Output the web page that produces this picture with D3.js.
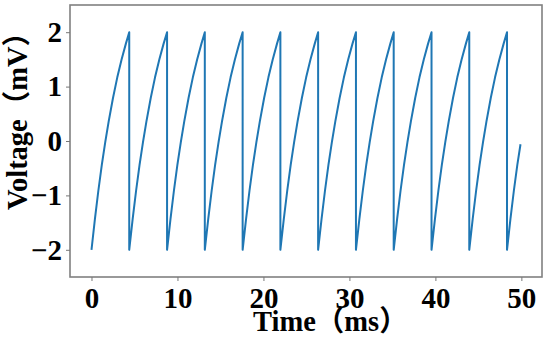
<!DOCTYPE html>
<meta charset="utf-8">
<style>
body { margin: 0; background: #fff; }
.tick text { font: bold 29px "Liberation Serif", serif; fill: #000; }
.tick line { stroke: #777; }
.label { font: bold 28.5px "Liberation Serif", "Noto Sans CJK SC", serif; fill: #000; }
</style>
<svg width="550" height="338"></svg>
<script src="https://d3js.org/d3.v7.min.js"></script>
<script>

// membrane trace (reset to -2, fire at 2)
var time = [
  0, 0.4, 0.8, 1.2, 1.6, 2.0, 2.5, 3.0, 3.5, 4.0, 4.39,
  4.39, 4.79, 5.19, 5.59, 5.99, 6.39, 6.89, 7.39, 7.89, 8.39, 8.79,
  8.79, 9.19, 9.59, 9.99, 10.39, 10.79, 11.29, 11.79, 12.29, 12.79, 13.18,
  13.18, 13.58, 13.98, 14.38, 14.78, 15.18, 15.68, 16.18, 16.68, 17.18, 17.58,
  17.58, 17.98, 18.38, 18.78, 19.18, 19.58, 20.08, 20.58, 21.08, 21.58, 21.97,
  21.97, 22.37, 22.77, 23.17, 23.57, 23.97, 24.47, 24.97, 25.47, 25.97, 26.36,
  26.36, 26.76, 27.16, 27.56, 27.96, 28.36, 28.86, 29.36, 29.86, 30.36, 30.76,
  30.76, 31.16, 31.56, 31.96, 32.36, 32.76, 33.26, 33.76, 34.26, 34.76, 35.15,
  35.15, 35.55, 35.95, 36.35, 36.75, 37.15, 37.65, 38.15, 38.65, 39.15, 39.55,
  39.55, 39.95, 40.35, 40.75, 41.15, 41.55, 42.05, 42.55, 43.05, 43.55, 43.94,
  43.94, 44.34, 44.74, 45.14, 45.54, 45.94, 46.44, 46.94, 47.44, 47.94, 48.33,
  48.33, 48.73, 49.13, 49.53, 49.9
];
var voltage = [
  -2, -1.43, -0.91, -0.44, -0.02, 0.36, 0.79, 1.17, 1.50, 1.79, 2,
  -2, -1.43, -0.91, -0.44, -0.02, 0.36, 0.79, 1.17, 1.50, 1.79, 2,
  -2, -1.43, -0.91, -0.44, -0.02, 0.36, 0.79, 1.17, 1.50, 1.79, 2,
  -2, -1.43, -0.91, -0.44, -0.02, 0.36, 0.79, 1.17, 1.50, 1.79, 2,
  -2, -1.43, -0.91, -0.44, -0.02, 0.36, 0.79, 1.17, 1.50, 1.79, 2,
  -2, -1.43, -0.91, -0.44, -0.02, 0.36, 0.79, 1.17, 1.50, 1.79, 2,
  -2, -1.43, -0.91, -0.44, -0.02, 0.36, 0.79, 1.17, 1.50, 1.79, 2,
  -2, -1.43, -0.91, -0.44, -0.02, 0.36, 0.79, 1.17, 1.50, 1.79, 2,
  -2, -1.43, -0.91, -0.44, -0.02, 0.36, 0.79, 1.17, 1.50, 1.79, 2,
  -2, -1.43, -0.91, -0.44, -0.02, 0.36, 0.79, 1.17, 1.50, 1.79, 2,
  -2, -1.43, -0.91, -0.44, -0.02, 0.36, 0.79, 1.17, 1.50, 1.79, 2,
  -2, -1.43, -0.91, -0.44, -0.06
];
var xTicks = [0, 10, 20, 30, 40, 50];
var yTicks = [-2, -1, 0, 1, 2];

var svg = d3.select("svg"),
    mLeft = 70, mRight = 542, mTop = 5, mBottom = 277;

var x = d3.scaleLinear().domain([-2.5, 52.4]).range([mLeft, mRight]);
var y = d3.scaleLinear().domain([-2.5, 2.5]).range([mBottom, mTop]);

var pts = time.map(function(t, i) { return [t, voltage[i]]; });

var line = d3.line()
    .x(function(d) { return x(d[0]); })
    .y(function(d) { return y(d[1]); });

svg.append("path")
    .datum(pts)
    .attr("fill", "none")
    .attr("stroke", "#1f77b4")
    .attr("stroke-width", 2)
    .attr("stroke-linejoin", "round")
    .attr("d", line);

// frame
svg.append("rect")
    .attr("x", mLeft).attr("y", mTop)
    .attr("width", mRight - mLeft).attr("height", mBottom - mTop)
    .attr("fill", "none")
    .attr("stroke", "#808080")
    .attr("stroke-width", 1.6);

var fmt = d3.format("d");

var xAxis = svg.append("g")
    .attr("transform", "translate(0," + mBottom + ")")
    .call(d3.axisBottom(x).tickValues(xTicks).tickFormat(fmt).tickSize(4).tickPadding(6));
xAxis.select(".domain").remove();

var yAxis = svg.append("g")
    .attr("transform", "translate(" + mLeft + ",0)")
    .call(d3.axisLeft(y).tickValues(yTicks).tickFormat(fmt).tickSize(4).tickPadding(4));
yAxis.select(".domain").remove();

svg.selectAll(".tick text").attr("font-family", null).attr("font-size", null);
svg.selectAll(".tick line").attr("stroke", null);

svg.append("text")
    .attr("class", "label")
    .attr("x", 253).attr("y", 331)
    .text("Time（ms）");

svg.append("text")
    .attr("class", "label")
    .attr("transform", "translate(27,210) rotate(-90)")
    .text("Voltage（mV）");

</script>
